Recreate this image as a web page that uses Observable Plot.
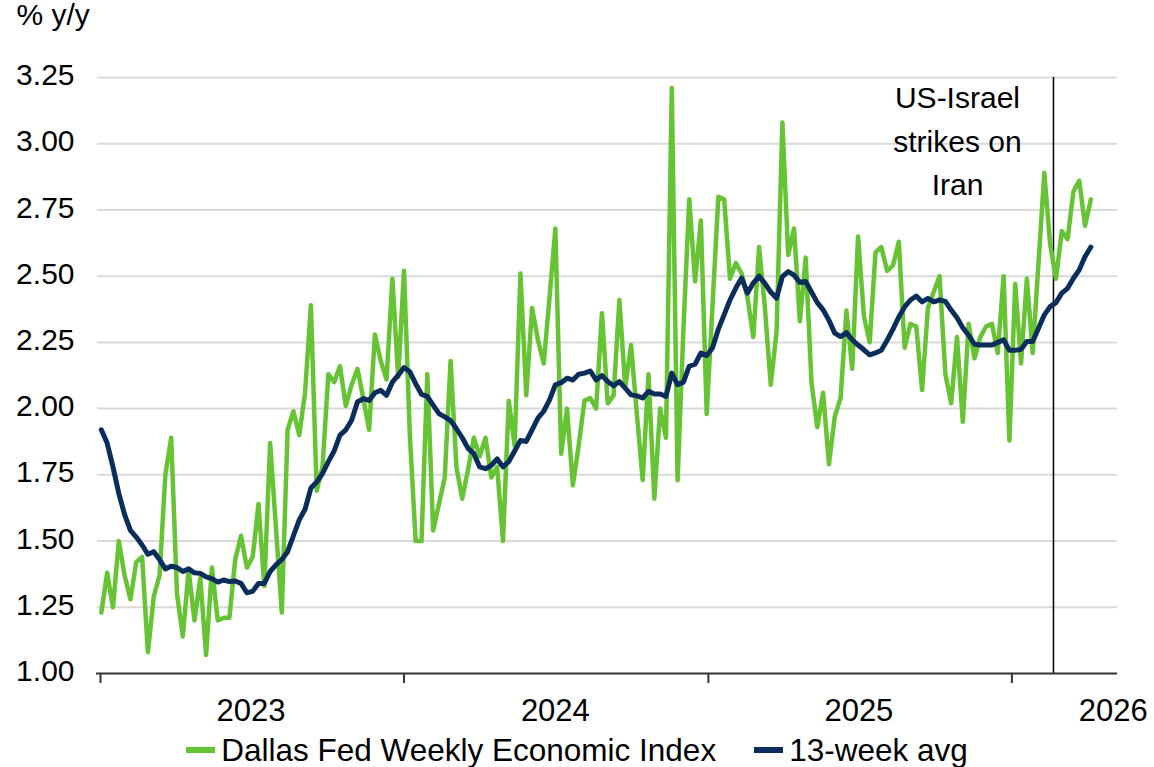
<!DOCTYPE html>
<html>
<head>
<meta charset="utf-8">
<script src="https://cdn.jsdelivr.net/npm/d3@7"></script>
<script src="https://cdn.jsdelivr.net/npm/@observablehq/plot@0.6"></script>
<style>
  html, body { margin: 0; padding: 0; background: #fff; }
  #chart svg { display: block; }
  #legend { display: flex; justify-content: center; align-items: center; height: 34px;
            font: 31.5px "Liberation Sans", Arial, sans-serif; color: #000; white-space: nowrap; }
  .sw { display: inline-block; width: 29px; height: 6px; margin-right: 6px; }
  .item2 { margin-left: 38px; }
</style>
</head>
<body>
<div id="chart"></div>
<div id="legend">
  <span class="sw" style="background:#66c334"></span><span>Dallas Fed Weekly Economic Index</span>
  <span class="sw item2" style="background:#0b2d5b"></span><span>13-week avg</span>
</div>
<script>
// ---- data (weekly, % y/y) ----
const startDate = "2023-01-02";
const wei = [
1.23,1.38,1.25,1.50,1.37,1.28,1.42,1.44,1.08,1.29,
1.37,1.75,1.89,1.30,1.14,1.39,1.20,1.36,1.07,1.40,
1.20,1.21,1.21,1.43,1.52,1.40,1.44,1.64,1.33,1.87,
1.55,1.23,1.92,1.99,1.90,2.06,2.39,1.69,1.78,2.13,
2.10,2.16,2.01,2.09,2.15,2.04,1.92,2.28,2.18,2.11,
2.49,2.12,2.52,1.90,1.50,1.50,2.13,1.54,1.64,1.74,
2.18,1.78,1.66,1.77,1.89,1.82,1.89,1.74,1.78,1.50,
2.03,1.86,2.51,2.05,2.38,2.26,2.17,2.42,2.68,1.83,
2.00,1.71,1.86,2.03,2.04,2.00,2.36,2.02,2.05,2.41,
2.08,2.24,1.98,1.73,2.13,1.66,2.00,1.89,3.21,1.73,
2.30,2.79,2.48,2.71,1.98,2.39,2.80,2.79,2.49,2.55,
2.51,2.42,2.27,2.61,2.38,2.09,2.29,3.08,2.58,2.68,
2.33,2.57,2.10,1.93,2.06,1.79,1.97,2.04,2.37,2.15,
2.65,2.35,2.25,2.59,2.61,2.52,2.54,2.63,2.23,2.32,
2.31,2.07,2.38,2.44,2.50,2.13,2.02,2.27,1.95,2.32,
2.19,2.27,2.31,2.32,2.21,2.50,1.88,2.47,2.17,2.49,
2.21,2.55,2.89,2.62,2.49,2.67,2.64,2.82,2.86,2.69,
2.79
];
const avg13 = [
1.92,1.87,1.78,1.68,1.60,1.54,1.515,1.485,1.45,1.46,
1.43,1.395,1.405,1.40,1.385,1.395,1.38,1.378,1.365,1.358,
1.345,1.353,1.347,1.349,1.34,1.305,1.31,1.34,1.34,1.385,
1.41,1.43,1.46,1.52,1.58,1.62,1.70,1.723,1.755,1.80,
1.84,1.90,1.92,1.956,2.025,2.038,2.031,2.06,2.069,2.05,
2.10,2.126,2.155,2.139,2.094,2.054,2.046,2.013,1.981,1.969,
1.955,1.924,1.89,1.85,1.83,1.78,1.773,1.786,1.81,1.78,
1.80,1.84,1.88,1.876,1.92,1.964,1.99,2.033,2.09,2.098,
2.115,2.108,2.13,2.134,2.142,2.108,2.125,2.102,2.086,2.102,
2.077,2.052,2.048,2.04,2.065,2.055,2.055,2.046,2.134,2.09,
2.10,2.16,2.168,2.21,2.20,2.23,2.30,2.355,2.41,2.455,
2.493,2.436,2.474,2.50,2.473,2.44,2.417,2.498,2.517,2.504,
2.476,2.48,2.44,2.40,2.373,2.333,2.285,2.272,2.287,2.26,
2.24,2.222,2.203,2.21,2.22,2.258,2.30,2.346,2.384,2.41,
2.425,2.403,2.416,2.403,2.41,2.405,2.372,2.343,2.305,2.277,
2.243,2.24,2.24,2.24,2.25,2.26,2.22,2.22,2.224,2.253,
2.253,2.303,2.354,2.385,2.40,2.436,2.454,2.492,2.524,2.574,
2.61
];
const yTicks = [1.00,1.25,1.50,1.75,2.00,2.25,2.50,2.75,3.00,3.25];
const xDomain = ["2023-01-01","2026-05-08"];
const yearTicks = ["2023-01-01","2024-01-01","2025-01-01","2026-01-01"];
const yearLabels = [
  {date:"2023-07-01", label:"2023"},
  {date:"2024-07-01", label:"2024"},
  {date:"2025-07-01", label:"2025"},
  {date:"2026-05-03", label:"2026"}
];
const eventDate = "2026-02-20";
const eventLabel = "US-Israel\nstrikes on\nIran";

// ---- build ----
const parse = d3.utcParse("%Y-%m-%d");
const start = parse(startDate);
const rows = wei.map((v, i) => ({date: d3.utcDay.offset(start, 7 * i), wei: v, avg: avg13[i]}));
const green = "#66c334", navy = "#0b2d5b";
const font = '"Liberation Sans", Arial, sans-serif';

const chart = Plot.plot({
  width: 1154,
  height: 733,
  marginLeft: 100,
  marginRight: 37,
  marginTop: 77,
  marginBottom: 60,
  style: {fontFamily: font, fontSize: "30px", color: "#000", background: "#fff", overflow: "visible"},
  x: {type: "utc", domain: xDomain.map(parse)},
  y: {domain: [1, 3.25]},
  marks: [
    Plot.gridY(yTicks.filter(d => d > 1), {stroke: "#d9d9d9", strokeOpacity: 1, strokeWidth: 2, insetLeft: -3}),
    Plot.axisY(yTicks, {tickSize: 0, tickPadding: 26, tickFormat: d3.format(".2f"), dy: -2, label: null, fontSize: 30}),
    Plot.text(["% y/y"], {frameAnchor: "top-left", dx: -84, dy: -74, textAnchor: "start", lineAnchor: "top", fontSize: 30}),
    Plot.ruleX([parse(eventDate)], {y1: 1, y2: 3.25, stroke: "#000", strokeWidth: 1.5}),
    Plot.text([eventLabel], {x: () => parse(eventDate), y: () => 3.25, text: d => d, dx: -96, dy: 0, textAnchor: "middle", lineAnchor: "top", lineHeight: 1.45, fontSize: 30}),
    Plot.line(rows, {x: "date", y: "wei", stroke: green, strokeWidth: 4.5, strokeLinejoin: "round"}),
    Plot.line(rows, {x: "date", y: "avg", stroke: navy, strokeWidth: 5, strokeLinejoin: "round"}),
    Plot.ruleY([1], {stroke: "#333", strokeWidth: 2, insetLeft: -4}),
    Plot.axisX(yearTicks.map(parse), {tickSize: 10, text: null, stroke: "#333", strokeWidth: 2, label: null}),
    Plot.text(yearLabels, {x: d => parse(d.date), text: "label", frameAnchor: "bottom", dy: 38, lineAnchor: "middle", textAnchor: "middle", fontSize: 31})
  ]
});
document.getElementById("chart").appendChild(chart);
</script>
</body>
</html>
